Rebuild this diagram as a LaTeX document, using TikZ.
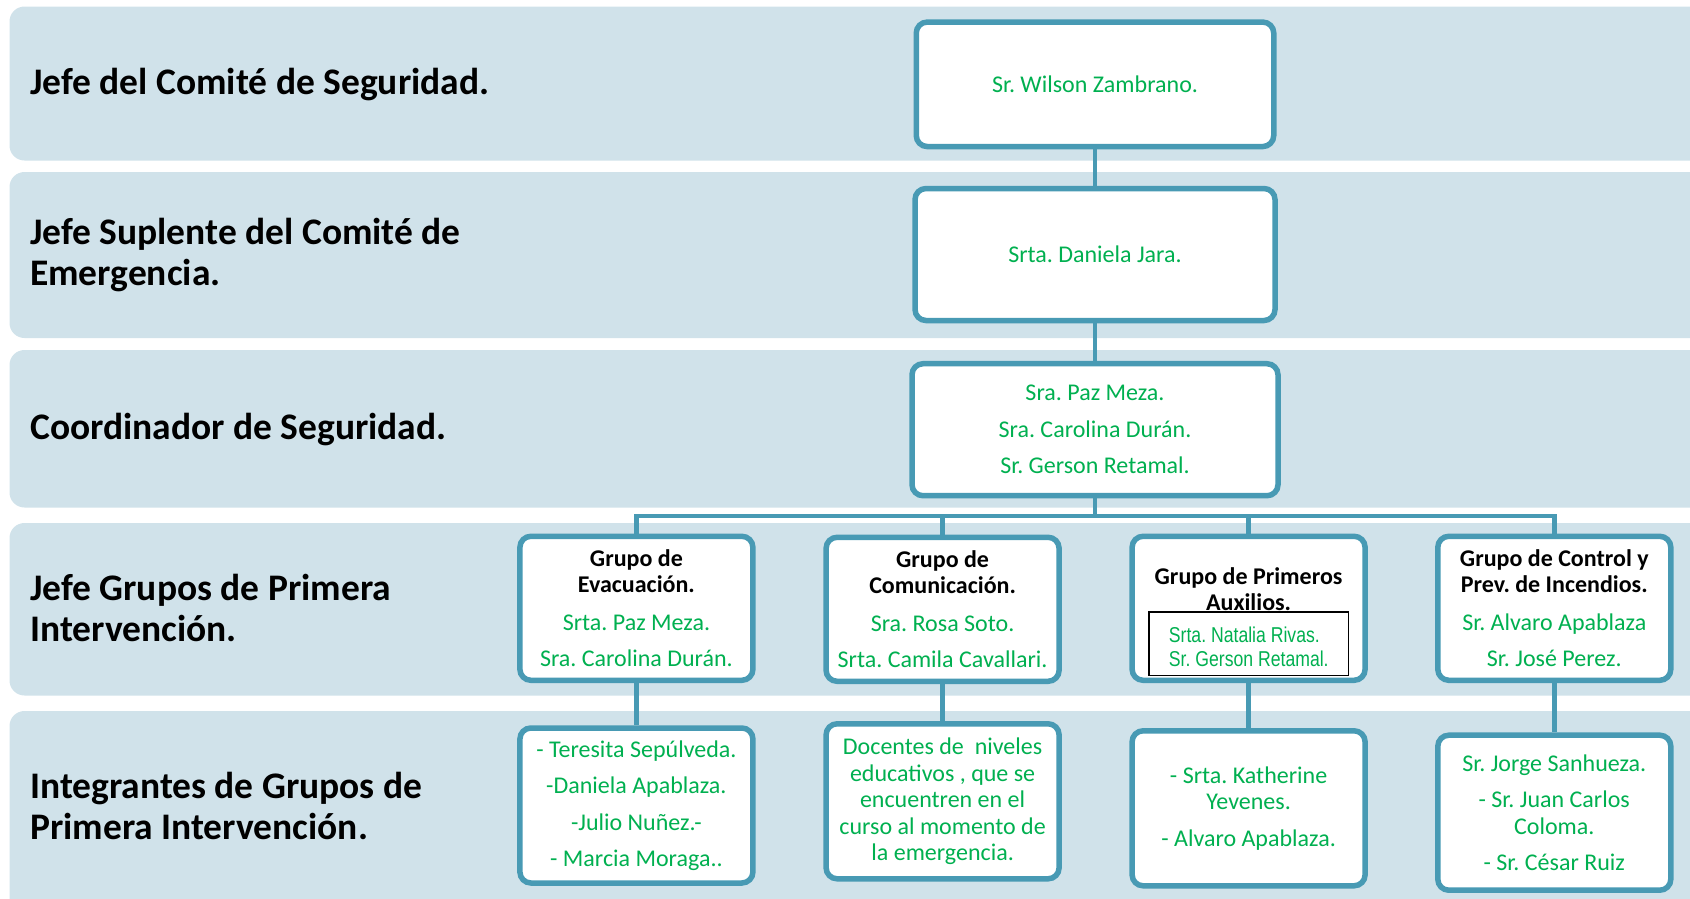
\documentclass[tikz,border=0pt]{standalone}
\usepackage{fontspec}
\setmainfont{Carlito}
\newfontfamily\narrowfont[FakeStretch=0.82]{Liberation Sans}
\usetikzlibrary{positioning}
\frenchspacing

\definecolor{bandblue}{RGB}{208,226,234}
\definecolor{boxteal}{RGB}{72,154,180}
\definecolor{namegreen}{RGB}{0,176,80}

\newcommand{\grp}[1]{\textcolor{black}{\bfseries #1}}

\tikzset{
	band/.style={fill=bandblue, rounded corners=15pt},
	tier/.style={anchor=west, align=left, inner sep=0pt,
		font=\fontsize{37.5}{41}\selectfont\bfseries},
	orgbox/.style={draw=boxteal, line width=5.5pt, fill=white,
		rounded corners=11pt, inner sep=0pt, align=center,
		text=namegreen, font=\fontsize{24}{26.5}\selectfont},
	group/.style={orgbox, minimum width=233pt, minimum height=144pt},
	member/.style={orgbox, minimum width=233pt, minimum height=155pt},
	link/.style={draw=boxteal, line width=4.6pt},
}

\begin{document}
\begin{tikzpicture}[x=1pt, y=-1pt]

	\useasboundingbox (0,0) rectangle (1690,898);

	% ---- bands

	\fill[band] (9.5,6.5) rectangle (1710,160.5);
	\fill[band] (9.5,172) rectangle (1710,338);
	\fill[band] (9.5,350) rectangle (1710,507.5);
	\fill[band] (9.5,523) rectangle (1710,695.5);
	\fill[band] (9.5,711) rectangle (1710,915);

	% ---- band labels

	\node[tier] (lJefe) at (30,85) {Jefe del Comité de Seguridad.};
	\node[tier] (lSuplente) at (30,255) {Jefe Suplente del Comité de\\Emergencia.};
	\node[tier] (lCoord) at (30,430) {Coordinador de Seguridad.};
	\node[tier] (lGrupos) at (30,608) {Jefe Grupos de Primera\\Intervención.};
	\node[tier] (lIntegr) at (30,806) {Integrantes de Grupos de\\Primera Intervención.};

	% ---- top of the chart

	\node[orgbox, minimum width=357.5pt, minimum height=124.5pt] (jefe)
		at (1095,84.3) {Sr. Wilson Zambrano.};
	\node[orgbox, minimum width=360pt, minimum height=132pt] (suplente)
		at (1095,254.5) {Srta. Daniela Jara.};
	\node[orgbox, minimum width=366pt, minimum height=132pt] (coord)
		at (1095,429.7) {Sra. Paz Meza.\\[10pt]Sra. Carolina Durán.\\[10pt]Sr. Gerson Retamal.};

	% ---- groups

	\node[group] (gEvac) at (636.4,608.3)
		{\grp{Grupo de}\\\grp{Evacuación.}\\[11pt]Srta. Paz Meza.\\[10pt]Sra. Carolina Durán.};
	\node[group] (gCom) at (942.6,609.3)
		{\grp{Grupo de}\\\grp{Comunicación.}\\[11pt]Sra. Rosa Soto.\\[10pt]Srta. Camila Cavallari.};
	\node[group] (gAux) at (1248.6,608.3) {};
	\node[font=\fontsize{24}{26.5}\selectfont, align=center, inner sep=0pt] (auxTitle)
		at (1248.6,589.3) {\grp{Grupo de Primeros}\\\grp{Auxilios.}};
	\node[draw=black, line width=1.5pt, fill=white, inner sep=0pt,
		minimum width=199.7pt, minimum height=63.5pt, align=left, text=namegreen,
		font=\narrowfont\fontsize{21.5}{24}\selectfont] (auxNames)
		at (1248.8,643.5) {\rule{0pt}{21.5pt}Srta. Natalia Rivas.\\Sr. Gerson Retamal.};
	\node[group] (gFuego) at (1554.3,608.3)
		{\grp{Grupo de Control y}\\\grp{Prev. de Incendios.}\\[11pt]Sr. Alvaro Apablaza\\[10pt]Sr. José Perez.};

	% ---- members

	\node[member] (mEvac) at (636.4,805.5)
		{- Teresita Sepúlveda.\\[10pt]-Daniela Apablaza.\\[10pt]-Julio Nuñez.-\\[10pt]- Marcia Moraga..};
	\node[member] (mCom) at (942.6,801.3)
		{Docentes de\ \ niveles\\educativos , que se\\encuentren en el\\curso al momento de\\la emergencia.};
	\node[member] (mAux) at (1248.6,808.3)
		{- Srta. Katherine\\Yevenes.\\[10pt]- Alvaro Apablaza.};
	\node[member] (mFuego) at (1554.3,812.7)
		{Sr. Jorge Sanhueza.\\[10pt]- Sr. Juan Carlos\\Coloma.\\[10pt]- Sr. César Ruiz};

	% ---- connectors

	\coordinate (bus) at (1095,516);

	\draw[link] (jefe) -- (suplente);
	\draw[link] (suplente) -- (coord);
	\draw[link] (coord) -- (bus);
	\draw[link] (gEvac.north) |- (bus) -| (gFuego.north);
	\draw[link] (gCom.north) -- (gCom.north |- bus);
	\draw[link] (gAux.north) -- (gAux.north |- bus);

	\foreach \g/\m in {gEvac/mEvac, gCom/mCom, gAux/mAux, gFuego/mFuego} {
		\draw[link] (\g) -- (\m);
	}

\end{tikzpicture}
\end{document}
